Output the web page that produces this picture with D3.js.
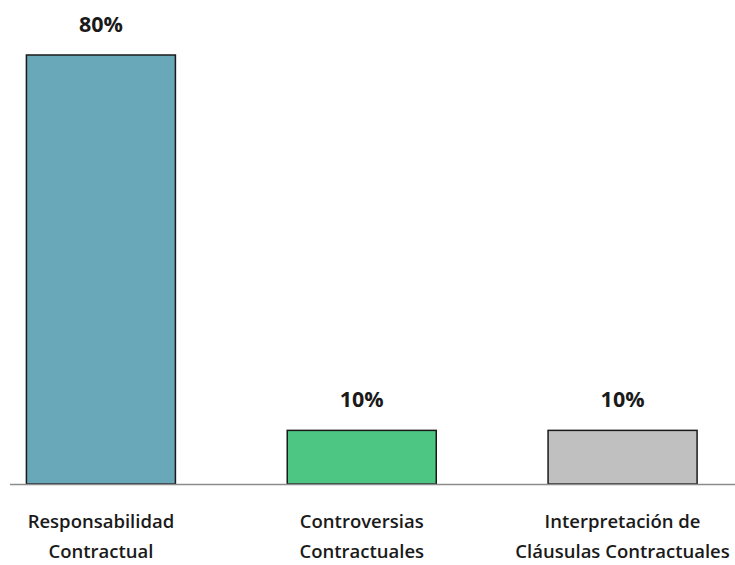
<html><head><meta charset="utf-8"><title>Bar chart</title>
<style>
  body {
    margin: 0;
    background: #fff;
    overflow: hidden;
  }
  svg text {
    font-family: 'Open Sans', 'Noto Sans', sans-serif;
    fill: #1a1a1a;
  }
</style>
</head>
<body>
  <svg id="chart" width="735" height="565"></svg>

  <script src="https://cdnjs.cloudflare.com/ajax/libs/d3/7.8.5/d3.min.js"></script>
  <script>
    const categories = [
      ["Responsabilidad", "Contractual"],
      ["Controversias", "Contractuales"],
      ["Interpretación de", "Cláusulas Contractuales"]
    ];
    const values = [80, 10, 10];
    const valueLabels = ["80%", "10%", "10%"];
    const colors = ["#68a8b8", "#4cc682", "#c0c0c0"];

    const svg = d3.select("#chart");
    const baseY = 484;

    const x = d3.scaleBand()
      .domain(d3.range(categories.length))
      .range([-29.5, 753])
      .paddingInner(0.4287)
      .paddingOuter(0.4287 / 2);

    const y = d3.scaleLinear()
      .domain([0, 80])
      .range([baseY, 55]);

    // bars
    svg.append("g")
      .selectAll("rect")
      .data(values)
      .enter().append("rect")
      .attr("x", (d, i) => x(i))
      .attr("y", d => y(d))
      .attr("width", x.bandwidth())
      .attr("height", d => baseY - y(d))
      .attr("fill", (d, i) => colors[i])
      .attr("stroke", "#1a1a1a")
      .attr("stroke-width", 1.5);

    // category axis line
    svg.append("line")
      .attr("x1", 10)
      .attr("x2", 735)
      .attr("y1", baseY + 0.5)
      .attr("y2", baseY + 0.5)
      .attr("stroke", "#8c8c8c")
      .attr("stroke-width", 1.5);

    // value labels
    svg.append("g")
      .selectAll("text")
      .data(values)
      .enter().append("text")
      .attr("x", (d, i) => x(i) + x.bandwidth() / 2)
      .attr("y", d => y(d) - 23)
      .attr("text-anchor", "middle")
      .attr("font-size", 21.5)
      .attr("font-weight", 700)
      .text((d, i) => valueLabels[i]);

    // category labels
    const cat = svg.append("g")
      .selectAll("text")
      .data(categories)
      .enter().append("text")
      .attr("x", (d, i) => x(i) + x.bandwidth() / 2)
      .attr("y", 528)
      .attr("text-anchor", "middle")
      .attr("font-size", 18.5)
      .attr("font-weight", 600);

    cat.selectAll("tspan")
      .data(d => d)
      .enter().append("tspan")
      .attr("x", function () { return this.parentNode.getAttribute("x"); })
      .attr("dy", (d, i) => i === 0 ? 0 : 30)
      .text(d => d);
  </script>
</body></html>
